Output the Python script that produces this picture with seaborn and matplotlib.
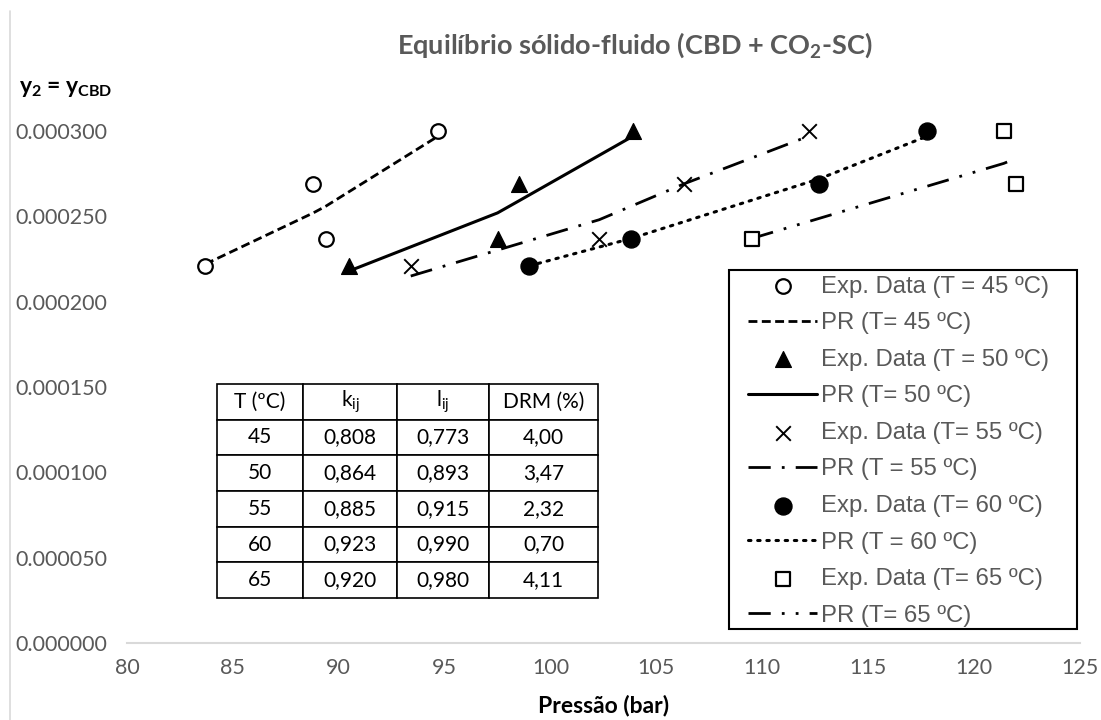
import matplotlib
matplotlib.use("Agg")
import matplotlib.pyplot as plt
import matplotlib.ticker as mticker
from matplotlib.lines import Line2D
from matplotlib.patches import Rectangle
import seaborn as sns
import pandas as pd

sns.set_style("white")
plt.rcParams["font.family"] = ["Lato", "DejaVu Sans"]
plt.rcParams["mathtext.fontset"] = "custom"
plt.rcParams["mathtext.rm"] = "Lato"
plt.rcParams["mathtext.bf"] = "Lato:bold"
plt.rcParams["mathtext.it"] = "Lato:italic"

GRAY = "#595959"

# experimental data (pressure in bar, solubility y2)
p_45 = [83.7, 88.8, 89.4, 94.7]
y_45 = [0.000221, 0.000269, 0.000237, 0.000300]
p_50 = [90.5, 97.5, 98.5, 103.9]
y_50 = [0.000221, 0.000237, 0.000269, 0.000300]
p_55 = [93.4, 102.3, 106.3, 112.2]
y_55 = [0.000221, 0.000237, 0.000269, 0.000300]
p_60 = [99.0, 103.8, 112.7, 117.8]
y_60 = [0.000221, 0.000237, 0.000269, 0.000300]
p_65 = [109.5, 121.4, 122.0]
y_65 = [0.000237, 0.000300, 0.000269]

# Peng-Robinson model curves
pr_p_45 = [83.7, 88.8, 89.4, 94.7]
pr_y_45 = [0.000222, 0.000252, 0.000256, 0.000297]
pr_p_50 = [90.5, 97.5, 98.5, 103.9]
pr_y_50 = [0.000218, 0.000252, 0.000259, 0.000297]
pr_p_55 = [93.4, 102.3, 106.3, 112.2]
pr_y_55 = [0.000215, 0.000248, 0.000269, 0.000297]
pr_p_60 = [99.0, 103.8, 112.7, 117.8]
pr_y_60 = [0.000221, 0.000237, 0.000272, 0.000297]
pr_p_65 = [109.5, 121.4, 122.0]
pr_y_65 = [0.000237, 0.000281, 0.000284]

# fitted parameters table
tab_head = ["T (ºC)", "k$_\\mathrm{ij}$", "l$_\\mathrm{ij}$", "DRM (%)"]
tab_T = ["45", "50", "55", "60", "65"]
tab_k = ["0,808", "0,864", "0,885", "0,923", "0,920"]
tab_l = ["0,773", "0,893", "0,915", "0,990", "0,980"]
tab_drm = ["4,00", "3,47", "2,32", "0,70", "4,11"]

fig = plt.figure(figsize=(11.01, 7.2), dpi=100)
ax = fig.add_axes([0.1153, 0.1069, 0.8656, 0.7112])

exp_sets = [
    (p_45, y_45, "Exp. Data (T = 45 ºC)", dict(marker="o", s=110, facecolor="white", edgecolor="black", linewidth=1.6)),
    (p_50, y_50, "Exp. Data (T = 50 ºC)", dict(marker="^", s=130, color="black", edgecolor="black")),
    (p_55, y_55, "Exp. Data (T= 55 ºC)", dict(marker="x", s=110, color="black", linewidth=1.4)),
    (p_60, y_60, "Exp. Data (T= 60 ºC)", dict(marker="o", s=150, color="black", edgecolor="black")),
    (p_65, y_65, "Exp. Data (T= 65 ºC)", dict(marker="s", s=110, facecolor="white", edgecolor="black", linewidth=1.6)),
]
pr_sets = [
    (pr_p_45, pr_y_45, "PR (T= 45 ºC)", dict(linestyle=(0, (3.2, 1.6)), linewidth=2.0)),
    (pr_p_50, pr_y_50, "PR (T= 50 ºC)", dict(linestyle="-", linewidth=2.2)),
    (pr_p_55, pr_y_55, "PR (T = 55 ºC)", dict(linestyle=(0, (8, 4, 1, 4)), linewidth=2.0)),
    (pr_p_60, pr_y_60, "PR (T = 60 ºC)", dict(linestyle=(0, (0.8, 2.2)), linewidth=2.2, dash_capstyle="round")),
    (pr_p_65, pr_y_65, "PR (T= 65 ºC)", dict(linestyle=(0, (8, 4, 1, 4, 1, 4)), linewidth=2.0)),
]

for (px, py, lab, kw), (lx, ly, llab, lkw) in zip(exp_sets, pr_sets):
    sns.lineplot(x=lx, y=ly, ax=ax, color="black", label=llab, zorder=2, **lkw)
    sns.scatterplot(x=px, y=py, ax=ax, label=lab, zorder=3, clip_on=False, **kw)

# legend frame drawn as its own box, legend entries placed inside it
ax.add_patch(Rectangle((0.632, 0.0273), 0.365, 0.7012, transform=ax.transAxes,
                       facecolor="white", edgecolor="black", linewidth=1.5,
                       zorder=4.5, clip_on=False))
h, l = ax.get_legend_handles_labels()
order = []
for (_, _, lab, _), (_, _, llab, _) in zip(exp_sets, pr_sets):
    order += [l.index(lab), l.index(llab)]
leg = ax.legend([h[i] for i in order], [l[i] for i in order],
                loc="upper left", bbox_to_anchor=(0.6516, 0.7175),
                borderaxespad=0, borderpad=0, handlelength=2.9,
                handletextpad=0.15, labelspacing=0.61, frameon=False,
                scatterpoints=1,
                prop={"family": "Liberation Sans", "size": 17.2})
leg.set_zorder(5)
for t in leg.get_texts():
    t.set_color(GRAY)

ax.set_xlim(80, 125)
ax.set_ylim(0, 0.0003)
ax.xaxis.set_major_locator(mticker.MultipleLocator(5))
ax.yaxis.set_major_locator(mticker.MultipleLocator(0.00005))
ax.yaxis.set_major_formatter(mticker.FormatStrFormatter("%.6f"))
ax.tick_params(axis="both", length=0, labelsize=15.5, labelcolor=GRAY)
ax.tick_params(axis="x", pad=11)
ax.tick_params(axis="y", pad=14)
for side in ["top", "right", "left"]:
    ax.spines[side].set_visible(False)
ax.spines["bottom"].set_color("#d9d9d9")
ax.spines["bottom"].set_linewidth(1.5)

ax.set_xlabel("Pressão (bar)", fontsize=16.5, fontweight="bold", color="black", labelpad=12)
ax.set_ylabel("")

fig.text(0.577, 0.9375, "Equilíbrio sólido-fluido (CBD + CO$_\\mathbf{2}$-SC)",
         ha="center", va="center", fontsize=19.5, fontweight="bold", color=GRAY)
fig.text(0.017, 0.877, "y$_\\mathbf{2}$ = y$_\\mathbf{CBD}$", ha="left", va="center",
         fontsize=16.5, fontweight="bold", color="black")

# thin border line on the left of the chart area
fig.add_artist(Line2D([0.009, 0.009], [0.0, 0.985], transform=fig.transFigure,
                      color="#d9d9d9", linewidth=1.2))

cells = [[a, b, c, d] for a, b, c, d in zip(tab_T, tab_k, tab_l, tab_drm)]
table = ax.table(cellText=cells, colLabels=tab_head, cellLoc="center",
                 colWidths=[0.226 * 0.3998, 0.247 * 0.3998, 0.241 * 0.3998, 0.286 * 0.3998],
                 bbox=[0.0944, 0.0879, 0.3998, 0.418])
table.auto_set_font_size(False)
table.set_fontsize(15)
for (r, c), cell in table.get_celld().items():
    cell.set_edgecolor("black")
    cell.set_linewidth(1.2)
    cell.set_facecolor("white")
    cell.get_text().set_color("black")
table.set_zorder(4)

fig.savefig("out.png", dpi=100)
